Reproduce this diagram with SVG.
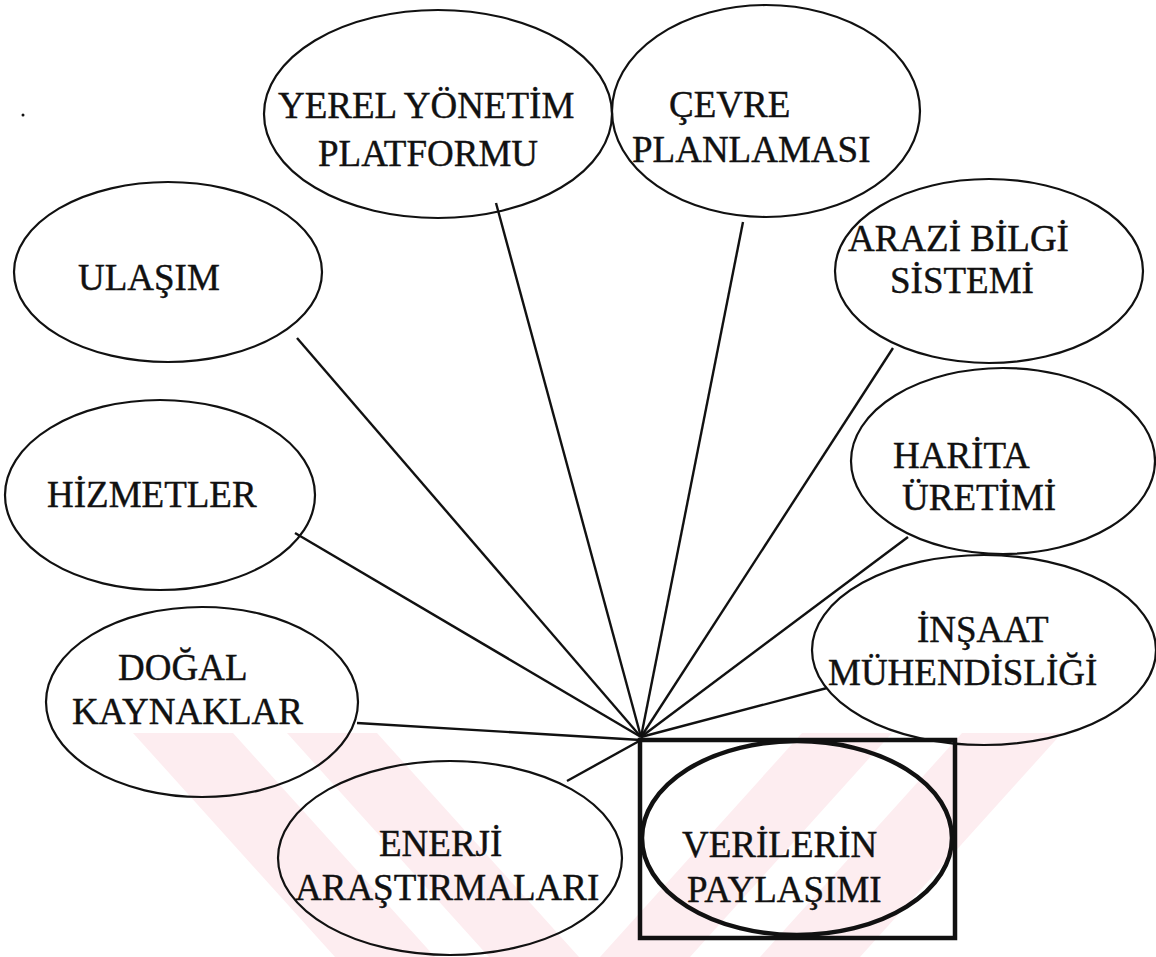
<svg xmlns="http://www.w3.org/2000/svg" width="1156" height="957" viewBox="0 0 1156 957">
  <style>
    .node { fill: none; stroke: #111; stroke-width: 2.2; }
    .main { fill: none; stroke: #111; stroke-width: 4.5; }
    .lbl { font-family: "Liberation Serif", "Times New Roman", serif; font-size: 37px; fill: #111; stroke: #111; stroke-width: 0.4; }
    .link { stroke: #111; stroke-width: 2.4; fill: none; }
    .mark { fill: #fdedf0; }
  </style>
  <rect width="1156" height="957" fill="#ffffff"/>

  <!-- faint background mark in the lower band -->
  <g id="backdrop">
    <polygon class="mark" points="133,733 233,733 435,957 335,957"/>
    <polygon class="mark" points="287,733 377,733 579,957 489,957"/>
    <polygon class="mark" points="600,957 690,957 892,733 802,733"/>
    <polygon class="mark" points="760,957 860,957 1062,733 962,733"/>
  </g>

  <!-- connectors radiating from the hub above the central box -->
  <g id="connectors">
    <line class="link" x1="641" y1="737" x2="297" y2="338"/>
    <line class="link" x1="641" y1="737" x2="496" y2="203"/>
    <line class="link" x1="641" y1="737" x2="743" y2="222"/>
    <line class="link" x1="641" y1="737" x2="893" y2="348"/>
    <line class="link" x1="641" y1="737" x2="908" y2="537"/>
    <line class="link" x1="641" y1="737" x2="827" y2="688"/>
    <line class="link" x1="641" y1="737" x2="295" y2="533"/>
    <line class="link" x1="641" y1="740" x2="357" y2="723"/>
    <line class="link" x1="641" y1="740" x2="567" y2="781"/>
  </g>

  <g id="yerel">
    <ellipse class="node" cx="438" cy="114" rx="174" ry="104"/>
    <text class="lbl" x="278" y="118">YEREL YÖNETİM</text>
    <text class="lbl" x="318" y="166">PLATFORMU</text>
  </g>

  <g id="cevre">
    <ellipse class="node" cx="766" cy="111" rx="154" ry="106"/>
    <text class="lbl" x="669" y="117">ÇEVRE</text>
    <text class="lbl" x="632" y="162">PLANLAMASI</text>
  </g>

  <g id="ulasim">
    <ellipse class="node" cx="168" cy="272" rx="154" ry="90"/>
    <text class="lbl" x="78" y="290">ULAŞIM</text>
  </g>

  <g id="hizmetler">
    <ellipse class="node" cx="160" cy="495" rx="155" ry="95"/>
    <text class="lbl" x="47" y="507">HİZMETLER</text>
  </g>

  <g id="dogal">
    <ellipse class="node" cx="202" cy="702" rx="156" ry="95"/>
    <text class="lbl" x="118" y="680">DOĞAL</text>
    <text class="lbl" x="72" y="724">KAYNAKLAR</text>
  </g>

  <g id="enerji">
    <ellipse class="node" cx="450" cy="858" rx="172" ry="97"/>
    <text class="lbl" x="379" y="856">ENERJİ</text>
    <text class="lbl" x="295" y="900">ARAŞTIRMALARI</text>
  </g>

  <g id="verilerin">
    <rect class="main" x="640" y="740" width="315" height="198"/>
    <ellipse class="main" cx="797" cy="838" rx="155" ry="97"/>
    <text class="lbl" x="682" y="857">VERİLERİN</text>
    <text class="lbl" x="687" y="902">PAYLAŞIMI</text>
  </g>

  <g id="arazi">
    <ellipse class="node" cx="989" cy="271" rx="154" ry="92"/>
    <text class="lbl" x="848" y="251">ARAZİ BİLGİ</text>
    <text class="lbl" x="890" y="293">SİSTEMİ</text>
  </g>

  <g id="harita">
    <ellipse class="node" cx="1003" cy="461" rx="152" ry="93"/>
    <text class="lbl" x="893" y="468">HARİTA</text>
    <text class="lbl" x="902" y="510">ÜRETİMİ</text>
  </g>

  <g id="insaat">
    <ellipse class="node" cx="984" cy="650" rx="172" ry="95"/>
    <text class="lbl" x="917" y="642">İNŞAAT</text>
    <text class="lbl" x="828" y="685">MÜHENDİSLİĞİ</text>
  </g>

  <circle cx="23" cy="115" r="1.5" fill="#111"/>
</svg>
